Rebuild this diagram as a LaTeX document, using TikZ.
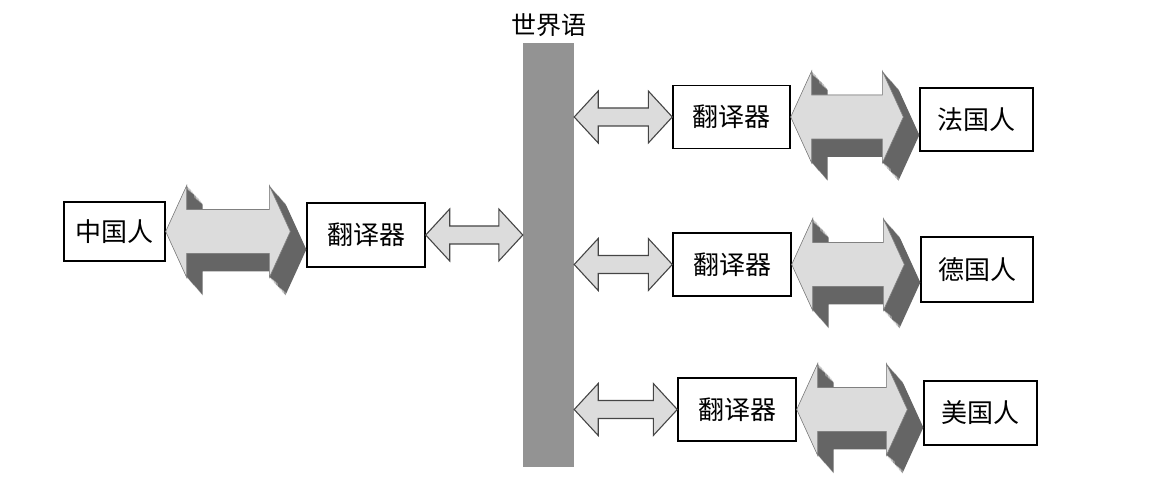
\documentclass[tikz,border=0pt]{standalone}
\usepackage{fontspec}
\newfontfamily\cjk{Noto Sans CJK SC}
\usetikzlibrary{calc,positioning}
\definecolor{facelight}{HTML}{DCDCDC}
\definecolor{facedark}{HTML}{656565}
\definecolor{barfill}{HTML}{939393}
\definecolor{rimgray}{HTML}{454545}
% flat double arrow from #1 to #2, at the height of #3
\newcommand{\smallarrow}[3]{%
\filldraw[smallarr] let \p1=(#1), \p2=(#2), \p3=(#3), \n1={\x2-\x1-48} in
 (\x1,\y3) -- ++(24,26) -- ++(0,-17) -- ++(\n1,0) -- ++(0,17) -- ++(24,-26)
 -- ++(-24,-26) -- ++(0,17) -- ++(-\n1,0) -- ++(0,-17) -- cycle;}
% thick double arrow with depth, from #1 to #2
\newcommand{\bigarrow}[2]{%
\foreach \t in {0,...,18}{%
\fill[bigback] let \p1=(#1.east), \p2=(#2.west), \n1={\x2-\x1-58} in
 ([xshift={\t*0.89pt}, yshift={-\t*1pt}]\x1,\y1) -- ++(21,46) -- ++(0,-24) -- ++(\n1,0) -- ++(0,24) -- ++(21,-46)
 -- ++(-21,-46) -- ++(0,24) -- ++(-\n1,0) -- ++(0,-24) -- cycle;}
\filldraw[bigfront] let \p1=(#1.east), \p2=(#2.west), \n1={\x2-\x1-58} in
 (\x1,\y1) -- ++(21,46) -- ++(0,-24) -- ++(\n1,0) -- ++(0,24) -- ++(21,-46)
 -- ++(-21,-46) -- ++(0,24) -- ++(-\n1,0) -- ++(0,-24) -- cycle;}

\begin{document}
\begin{tikzpicture}[x=1pt, y=1pt,
  box/.style={draw, line width=1.4pt, fill=white, minimum width=116pt, minimum height=63pt, inner sep=0pt, font=\cjk\fontsize{26}{30}\selectfont},
  smallarr/.style={fill=facelight, draw=rimgray, line width=1.1pt, line join=miter},
  bigfront/.style={fill=facelight, draw=gray, line width=0.6pt},
  bigback/.style={fill=facedark}]
\useasboundingbox (0,0) rectangle (1153,497);
\node[fill=barfill, minimum width=51pt, minimum height=424pt, inner sep=0pt] (bar) at (548.5,242) {};
\node[font=\cjk\fontsize{25}{29}\selectfont, inner sep=0pt, above=6pt of bar] (esp) {世界语};
\node[box, minimum width=101pt, minimum height=59pt] (zh) at (114.5,265.5) {中国人};
\node[box, minimum width=118pt, minimum height=64pt] (tr0) at (366,262) {翻译器};
\node[box, minimum width=117pt] (tr1) at (731.5,380) {翻译器};
\node[box, minimum width=113pt] (fr) at (976.5,377.5) {法国人};
\node[box, minimum width=118pt] (tr2) at (732,232.5) {翻译器};
\node[box, minimum width=112pt, minimum height=65pt] (de) at (977,227.5) {德国人};
\node[box, minimum width=118pt] (tr3) at (737,87.5) {翻译器};
\node[box, minimum width=113pt, minimum height=64pt] (us) at (980.5,84) {美国人};
\smallarrow{tr0.east}{bar.west}{tr0}
\smallarrow{bar.east}{tr1.west}{tr1}
\smallarrow{bar.east}{tr2.west}{tr2}
\smallarrow{bar.east}{tr3.west}{tr3}
\bigarrow{zh}{tr0}
\bigarrow{tr1}{fr}
\bigarrow{tr2}{de}
\bigarrow{tr3}{us}
\end{tikzpicture}
\end{document}
